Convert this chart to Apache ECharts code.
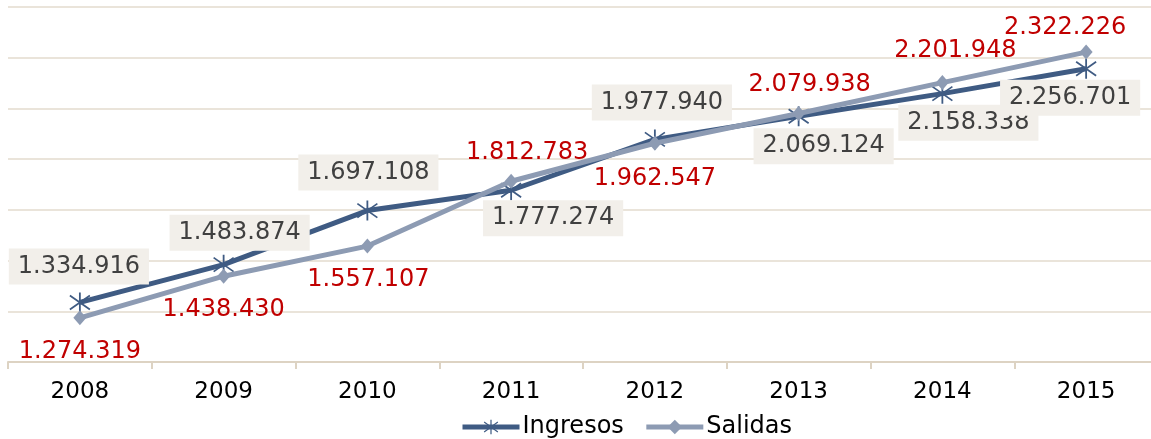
<!DOCTYPE html>
<html>
<head>
<meta charset="utf-8">
<script src="https://cdn.jsdelivr.net/npm/echarts@6/dist/echarts.min.js"></script>
<style>
    html, body { margin: 0; padding: 0; background: #fff; }
    #chart { width: 1151px; height: 439px; }
</style>
</head>
<body>
<div id="chart"></div>
<script>
const years = ['2008', '2009', '2010', '2011', '2012', '2013', '2014', '2015']
const ingresos = [1334916, 1483874, 1697108, 1777274, 1977940, 2069124, 2158338, 2256701]
const salidas = [1274319, 1438430, 1557107, 1812783, 1962547, 2079938, 2201948, 2322226]

// where each data label sits, relative to its point (px)
const ingresosLabelOffset = [[-1, -36], [16, -32], [1, -38], [42, 28], [7, -37], [25, 30], [26, 29], [-16, 29]]
const salidasLabelOffset = [[0, 34], [0, 34], [1, 34], [16, -28], [0, 35], [11, -29], [13, -32], [-21, -24]]

const fmt = v => String(v).replace(/\B(?=(\d{3})+(?!\d))/g, '.')

// asterisk marker: vertical bar plus an X
const asterisk = 'path://M9.1 0L10.9 0L10.9 20L9.1 20Z' +
    'M0.5 2.3L20.5 16.3L19.5 17.7L-0.5 3.7Z' +
    'M-0.5 16.3L19.5 2.3L20.5 3.7L0.5 17.7Z'

const font = 'DejaVu Sans, Verdana, sans-serif'

const chart = echarts.init(document.getElementById('chart'))
chart.setOption({
    animation: false,
    grid: {
        left: 8,
        width: 1150,
        top: 7,
        bottom: 77,
        outerBoundsMode: 'none'
    },
    legend: {
        data: ['Ingresos', 'Salidas'],
        top: 410,
        left: 455,
        itemWidth: 57,
        itemHeight: 18,
        itemGap: 20,
        lineStyle: { width: 5 },
        textStyle: { fontSize: 24, color: '#000', fontFamily: font, padding: [0, 0, 0, -2] }
    },
    xAxis: {
        type: 'category',
        data: years,
        axisLine: { lineStyle: { color: '#DDD3C3', width: 2 } },
        axisTick: { show: true, length: 7, lineStyle: { color: '#DDD3C3', width: 2 } },
        axisLabel: { color: '#000', fontSize: 23, fontFamily: font, margin: 19 },
        splitLine: { show: false }
    },
    yAxis: {
        type: 'value',
        min: 1100000,
        max: 2500000,
        interval: 200000,
        axisLabel: { show: false },
        axisLine: { show: false },
        axisTick: { show: false },
        splitLine: { lineStyle: { color: '#EAE4DA', width: 2 } }
    },
    series: [
        {
            name: 'Ingresos',
            type: 'line',
            data: ingresos.map((v, i) => ({
                value: v,
                label: { offset: ingresosLabelOffset[i] }
            })),
            symbol: asterisk,
            symbolSize: [21, 20],
            showAllSymbol: true,
            lineStyle: { color: '#3F5B83', width: 5 },
            itemStyle: { color: '#3F5B83' },
            label: {
                show: true,
                position: 'inside',
                formatter: p => fmt(p.value),
                color: '#404040',
                fontSize: 24,
                fontFamily: font,
                backgroundColor: '#F2EFEA',
                padding: [6, 9]
            },
            z: 2
        },
        {
            name: 'Salidas',
            type: 'line',
            data: salidas.map((v, i) => ({
                value: v,
                label: { offset: salidasLabelOffset[i] }
            })),
            symbol: 'diamond',
            symbolSize: [13, 15],
            showAllSymbol: true,
            lineStyle: { color: '#8D9BB3', width: 5 },
            itemStyle: { color: '#8D9BB3' },
            label: {
                show: true,
                position: 'inside',
                formatter: p => fmt(p.value),
                color: '#C00000',
                fontSize: 24,
                fontFamily: font
            },
            z: 3
        }
    ]
})
</script>
</body>
</html>
